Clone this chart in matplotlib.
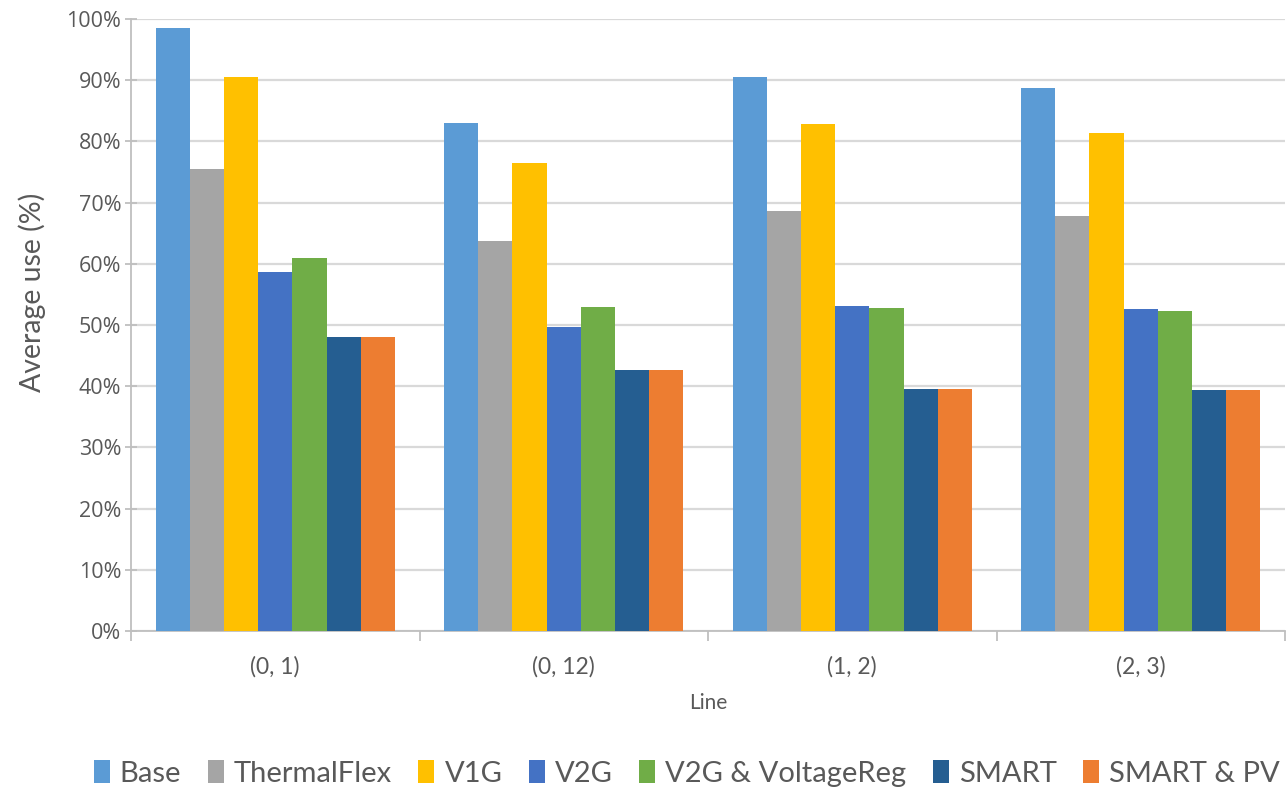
import matplotlib
matplotlib.use("Agg")
import matplotlib.pyplot as plt
from matplotlib.ticker import PercentFormatter, FixedLocator, NullFormatter
from matplotlib.patches import Patch
import numpy as np

lines = ["(0, 1)", "(0, 12)", "(1, 2)", "(2, 3)"]
series_names = ["Base", "ThermalFlex", "V1G", "V2G", "V2G & VoltageReg", "SMART", "SMART & PV"]
base = [98.6, 83.0, 90.5, 88.7]
thermalflex = [75.5, 63.7, 68.7, 67.8]
v1g = [90.6, 76.4, 82.8, 81.3]
v2g = [58.6, 49.6, 53.1, 52.6]
v2g_voltreg = [60.9, 52.9, 52.7, 52.3]
smart = [48.1, 42.6, 39.5, 39.3]
smart_pv = [48.1, 42.6, 39.5, 39.3]
colors = ["#5B9BD5", "#A5A5A5", "#FFC000", "#4472C4", "#70AD47", "#255E91", "#ED7D31"]

series = [base, thermalflex, v1g, v2g, v2g_voltreg, smart, smart_pv]

text_color = "#595959"
tick_font = "Open Sans"
label_font = "Lato"

fig = plt.figure(figsize=(12.86, 7.90), dpi=100)
ax = fig.add_axes([131 / 1286, (790 - 631) / 790, (1285 - 131) / 1286, (631 - 19) / 790])

n = len(series)
group_span = 0.83
w = group_span / n
x = np.arange(len(lines))
for i, (vals, col) in enumerate(zip(series, colors)):
    offs = (i - (n - 1) / 2) * w
    ax.bar(x + offs, vals, width=w, color=col, edgecolor="none", zorder=3)

ax.set_xlim(-0.5, len(lines) - 0.5)
ax.set_ylim(0, 100)
ax.yaxis.set_major_locator(FixedLocator(np.arange(0, 101, 10)))
ax.yaxis.set_major_formatter(PercentFormatter(decimals=0))
ax.grid(axis="y", color="#D9D9D9", linewidth=1.6, zorder=0)
ax.set_axisbelow(True)

for s in ["top", "right"]:
    ax.spines[s].set_visible(False)
for s in ["left", "bottom"]:
    ax.spines[s].set_color("#BFBFBF")
    ax.spines[s].set_linewidth(1.3)

# group boundaries as major ticks, category names on minor ticks
ax.xaxis.set_major_locator(FixedLocator(np.arange(-0.5, len(lines), 1.0)))
ax.xaxis.set_major_formatter(NullFormatter())
ax.xaxis.set_minor_locator(FixedLocator(x))
ax.set_xticklabels(lines, minor=True)
ax.tick_params(axis="x", which="major", length=7, color="#BFBFBF", width=1.3, direction="out")
ax.tick_params(axis="x", which="minor", length=0, pad=18, labelsize=16.5, labelcolor=text_color)
ax.tick_params(axis="y", length=8, color="#BFBFBF", width=1.3, direction="inout",
               labelsize=15.5, labelcolor=text_color, pad=3)
for lab in ax.get_xticklabels(minor=True):
    lab.set_fontfamily(label_font)
for lab in ax.get_yticklabels():
    lab.set_fontfamily(tick_font)

ax.set_ylabel("Average use (%)", fontsize=20.5, color=text_color, family=label_font)
ax.yaxis.set_label_coords(-0.074, 0.553)
ax.set_xlabel("Line", fontsize=15, color=text_color, family=label_font, labelpad=11)

handles = [Patch(facecolor=c, edgecolor="none") for c in colors]
fig.legend(handles, series_names, loc="center", bbox_to_anchor=(0.534, 0.021), ncol=n,
           frameon=False, handlelength=0.55, handleheight=0.8, handletextpad=0.35,
           columnspacing=0.9, prop={"family": label_font, "size": 21}, labelcolor=text_color)

fig.savefig("out.png", dpi=100)
